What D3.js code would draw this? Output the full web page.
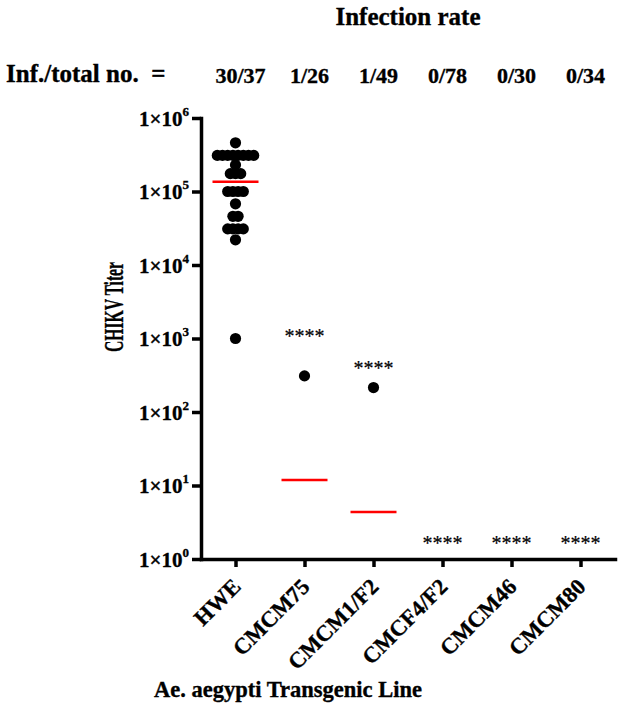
<!DOCTYPE html>
<html>
<head>
<meta charset="utf-8">
<script src="https://cdn.jsdelivr.net/npm/d3@7"></script>
<style>
  body { margin: 0; background: #fff; }
  text { font-family: "Liberation Serif", "Times New Roman", serif; font-weight: bold; fill: #000; stroke: #000; stroke-width: 0.35px; }
</style>
</head>
<body>
<div id="chart"></div>
<script>
/** Transgenic lines on the x axis */
var lines = ["HWE", "CMCM75", "CMCM1/F2", "CMCF4/F2", "CMCM46", "CMCM80"];
/** Infected / total mosquitoes per line */
var infected = [30, 1, 1, 0, 0, 0];
var totals = [37, 26, 49, 78, 30, 34];
/** Titers of infected mosquitoes (overlapping dots estimated) */
var hweTiters = [4.6e5,
  3.1e5, 3.1e5, 3.1e5, 3.1e5, 3.1e5, 3.1e5, 3.1e5, 3.1e5,
  2.3e5,
  1.75e5, 1.75e5, 1.75e5,
  1.0e5, 1.0e5, 1.0e5, 1.0e5,
  6.8e4,
  4.6e4, 4.6e4,
  3.1e4, 3.1e4, 3.1e4, 3.1e4,
  2.2e4,
  1.0e3];
var cmcm75Titers = [310];
var cmcm1Titers = [215];
var titersByLine = [hweTiters, cmcm75Titers, cmcm1Titers, [], [], []];
/** Group means (red bars) */
var meanTiters = [1.36e5, 11.9, 4.35, null, null, null];
/** Level of the "****" significance marks */
var starLevels = [null, 1.2e3, 4.4e2, 1.8, 1.8, 1.8];
var yTicks = [1, 10, 100, 1e3, 1e4, 1e5, 1e6];

var TiterPlot = function(elementId, width, height)
{
  this.elementId = elementId;
  this.width = width;
  this.height = height;
  this.dotRadius = 5.6;
  this.dotSpacing = 5.2;
}

/**
 * @desc Spread equal values sideways so the dots sit in rows, like a scatter dot plot.
 */
TiterPlot.prototype.layout = function(values)
{
  var self = this;
  var groups = d3.group(values, function(d){ return d; });
  var points = [];
  groups.forEach(function(g, v){
    g.forEach(function(d, i){
      points.push({ value: v, offset: (i - (g.length - 1) / 2) * self.dotSpacing });
    });
  });
  return points;
}

TiterPlot.prototype.draw = function()
{
  var self = this;
  var svg = d3.select("#" + this.elementId)
    .append("svg")
    .attr("width", this.width)
    .attr("height", this.height);

  var y = d3.scaleLog().domain([1, 1e6]).range([559, 118]);
  var x = d3.scalePoint().domain(lines).range([201, 615]).padding(0.5);

  /** Y axis */
  var yAxis = svg.append("g")
    .attr("transform", "translate(201,0)")
    .call(d3.axisLeft(y).tickValues(yTicks).tickSize(9).tickSizeOuter(0).tickPadding(3));
  yAxis.selectAll(".tick text").each(function(d){
    var t = d3.select(this);
    t.text("1\u00d710").attr("font-size", 21).attr("dy", 7);
    t.append("tspan").attr("dy", -10).attr("font-size", 13).text(Math.round(Math.log10(d)));
  });

  /** X axis */
  var xAxis = svg.append("g")
    .attr("transform", "translate(0,559)")
    .call(d3.axisBottom(x).tickSize(8).tickSizeOuter(0));
  xAxis.selectAll(".tick text")
    .attr("x", 0).attr("y", 0).attr("dy", 0)
    .attr("font-size", 22.5)
    .attr("text-anchor", "end")
    .attr("transform", "translate(6,29) rotate(-45)");

  svg.selectAll(".domain, .tick line")
    .attr("stroke", "#000")
    .attr("stroke-width", 3.5)
    .attr("stroke-linecap", "square");
  svg.selectAll(".tick line").attr("stroke-linecap", "butt");

  /** Dots */
  titersByLine.forEach(function(values, i){
    svg.append("g").selectAll("circle")
      .data(self.layout(values))
      .enter().append("circle")
      .attr("cx", function(d){ return x(lines[i]) + d.offset; })
      .attr("cy", function(d){ return y(d.value); })
      .attr("r", self.dotRadius)
      .attr("fill", "#000");
  });

  /** Means */
  svg.append("g").selectAll("line")
    .data(meanTiters.map(function(m, i){ return { line: lines[i], mean: m }; })
      .filter(function(d){ return d.mean != null; }))
    .enter().append("line")
    .attr("x1", function(d){ return x(d.line) - 23; })
    .attr("x2", function(d){ return x(d.line) + 23; })
    .attr("y1", function(d){ return y(d.mean); })
    .attr("y2", function(d){ return y(d.mean); })
    .attr("stroke", "#ff0000")
    .attr("stroke-width", 2.6);

  /** Significance marks */
  svg.append("g").selectAll("text")
    .data(starLevels.map(function(s, i){ return { line: lines[i], level: s }; })
      .filter(function(d){ return d.level != null; }))
    .enter().append("text")
    .attr("x", function(d){ return x(d.line); })
    .attr("y", function(d){ return y(d.level) + 10; })
    .attr("text-anchor", "middle")
    .attr("font-size", 20)
    .style("font-weight", "normal")
    .style("stroke-width", "0.2px")
    .text("****");

  /** Infection rate header */
  svg.append("text")
    .attr("x", 408).attr("y", 25)
    .attr("text-anchor", "middle")
    .attr("font-size", 25)
    .text("Infection rate");
  svg.append("text")
    .attr("x", 6).attr("y", 82)
    .attr("font-size", 25)
    .text("Inf./total no.\u00a0\u00a0=");
  svg.append("g").selectAll("text")
    .data(lines)
    .enter().append("text")
    .attr("x", function(d){ return x(d) + 5; })
    .attr("y", 83)
    .attr("text-anchor", "middle")
    .attr("font-size", 22)
    .text(function(d, i){ return infected[i] + "/" + totals[i]; });

  /** Axis titles */
  svg.append("text")
    .attr("transform", "translate(123,307) rotate(-90)")
    .attr("text-anchor", "middle")
    .attr("font-size", 27)
    .attr("textLength", 90)
    .attr("lengthAdjust", "spacingAndGlyphs")
    .text("CHIKV Titer");
  svg.append("text")
    .attr("x", 288).attr("y", 697)
    .attr("text-anchor", "middle")
    .attr("font-size", 22.5)
    .text("Ae. aegypti Transgenic Line");
}

var plot = new TiterPlot("chart", 624, 709);
plot.draw();
</script>
</body>
</html>
